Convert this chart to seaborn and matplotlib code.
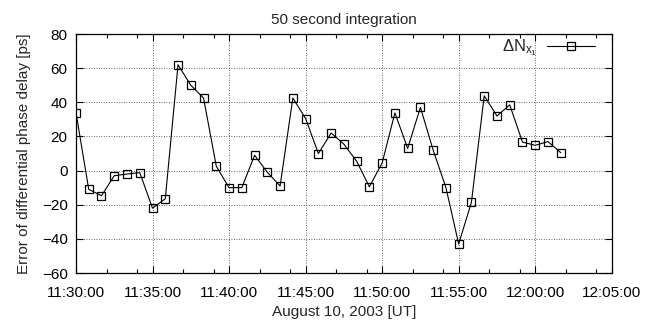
import numpy as np
import pandas as pd
import matplotlib
matplotlib.use("Agg")
import matplotlib.pyplot as plt
import matplotlib.dates as mdates
import seaborn as sns

# Error of differential phase delay [ps], one value per 50 s integration
delay_ps = [34, -11, -14.7, -3, -2, -1.2, -22, -16.5, 62, 50, 42.5, 2.5,
            -10, -10, 9, -1, -9, 42.5, 30.5, 10, 22, 15.5, 5.5, -9.5, 4.5,
            33.8, 13, 37, 12, -10, -43, -18.5, 43.8, 32, 38.5, 16.7, 14.8,
            17, 10.5]
start_time = "2003-08-10 11:30:00"
step = "50s"
series_label = r"$\Delta N_{x_1}$"

times = pd.date_range(start_time, periods=len(delay_ps), freq=step)
df = pd.DataFrame({"time": times, "delay": delay_ps})

sns.set_style("ticks")
plt.rcParams["font.family"] = ["Liberation Sans", "DejaVu Sans"]
plt.rcParams["mathtext.fontset"] = "custom"
plt.rcParams["mathtext.rm"] = "Liberation Sans"
plt.rcParams["mathtext.it"] = "Liberation Sans"

fig = plt.figure(figsize=(6.55, 3.27), dpi=100)
ax = fig.add_axes([0.116, 0.165, 0.818, 0.731])

sns.lineplot(data=df, x="time", y="delay", ax=ax, color="black",
             linewidth=0.8, marker="s", markersize=5.8,
             markerfacecolor="none", markeredgecolor="black",
             markeredgewidth=0.9, label=series_label)

ax.set_xlim(pd.Timestamp("2003-08-10 11:30:00"), pd.Timestamp("2003-08-10 12:05:00"))
ax.set_ylim(-60, 80)
ax.set_yticks(np.arange(-60, 81, 20))

ax.xaxis.set_major_locator(mdates.MinuteLocator(byminute=range(0, 60, 5)))
ax.xaxis.set_minor_locator(mdates.MinuteLocator(byminute=[m for m in range(60) if m % 5 in (2, 4)]))
ax.xaxis.set_major_formatter(mdates.DateFormatter("%H:%M:%S"))

ax.tick_params(which="both", direction="in", top=True, right=True,
               labelsize=11, colors="black")
ax.tick_params(axis="x", which="major", pad=9)
ax.tick_params(axis="y", which="major", pad=6)
ax.tick_params(which="major", length=5, width=0.8)
ax.tick_params(which="minor", length=3, width=0.8)

ax.grid(True, which="major", linestyle=(0, (1, 2)), color="#333333", linewidth=0.6)
for s in ax.spines.values():
    s.set_linewidth(0.9)
    s.set_color("black")

ax.set_title("50 second integration", fontsize=11, pad=7)
ax.set_xlabel("August 10, 2003 [UT]", fontsize=11, labelpad=4)
ax.set_ylabel("Error of differential phase delay [ps]", fontsize=11, labelpad=8)

leg = ax.legend(loc="upper right", frameon=False, markerfirst=False,
                fontsize=12, handlelength=2.9, handletextpad=0.6,
                borderaxespad=0.0, borderpad=0.5,
                bbox_to_anchor=(0.985, 1.02))

fig.savefig("out.png", dpi=100)
